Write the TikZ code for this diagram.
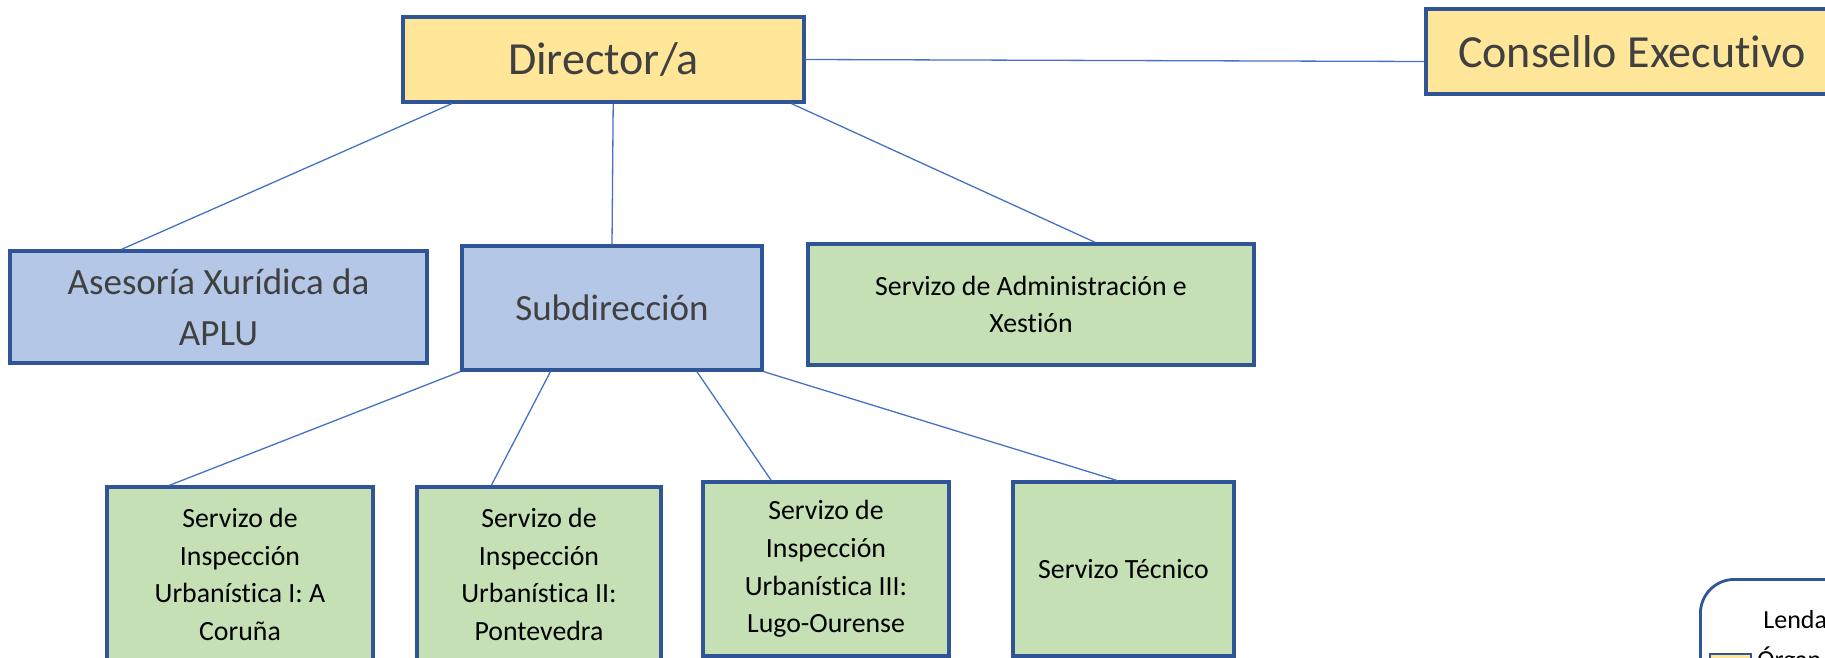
\documentclass[tikz,border=0pt]{standalone}
\usepackage{fontspec}
\setmainfont{Carlito}[Ligatures=NoCommon]
\usepackage{tikz}
\usetikzlibrary{calc}
\usepackage{xcolor}
\definecolor{boxline}{HTML}{2F5597}
\definecolor{linkblue}{HTML}{4472C4}
\definecolor{dirfill}{HTML}{FFE699}
\definecolor{subfill}{HTML}{B4C7E7}
\definecolor{servfill}{HTML}{C5E0B4}
\definecolor{darktext}{HTML}{404040}
\tikzstyle{unit}=[draw=boxline, line width=1.6pt, inner sep=0pt, align=center]
\tikzstyle{goberno}=[unit, fill=dirfill, text=darktext, font=\fontsize{23}{28}\selectfont]
\tikzstyle{staff}=[unit, fill=subfill, text=darktext, font=\fontsize{18.5}{25.5}\selectfont]
\tikzstyle{servizo}=[unit, fill=servfill, text=black, font=\fontsize{13.9}{18.8}\selectfont]
\tikzstyle{link}=[draw=linkblue, line width=0.65pt]

\begin{document}
\begin{tikzpicture}[x=0.5pt,y=-0.5pt]
\useasboundingbox (0,0) rectangle (1825,658);
\clip (0,0) rectangle (1825,658);
% top level
\node[goberno, minimum width=200.5pt, minimum height=42.5pt] (dir) at (603.5,59.5) {Director/a};
\node[goberno, minimum width=206pt, minimum height=42.5pt] (cons) at (1632,51.5) {Consello Executivo};
% second level
\node[staff, minimum width=208.5pt, minimum height=56pt] (ases) at (218.5,307) {Asesoría Xurídica da\\APLU};
\node[staff, minimum width=150pt, minimum height=62pt] (sub) at (612,308) {Subdirección};
\node[servizo, minimum width=223pt, minimum height=60.5pt] (admin) at (1031,304.5) {Servizo de Administración e\\Xestión};
% services under the subdireccion
\node[servizo, minimum width=133pt, minimum height=87.5pt] (insp1) at (240,574.5) {Servizo de\\Inspección\\Urbanística I: A\\Coruña};
\node[servizo, minimum width=122pt, minimum height=87.5pt] (insp2) at (539,574.5) {Servizo de\\Inspección\\Urbanística II:\\Pontevedra};
\node[servizo, minimum width=123pt, minimum height=87pt] (insp3) at (826,569) {Servizo de\\Inspección\\Urbanística III:\\Lugo-Ourense};
\node[servizo, minimum width=110.5pt, minimum height=87pt] (tecn) at (1123.5,569) {Servizo Técnico};
% connectors
\draw[link] (dir.east) -- ([yshift=-5pt]cons.west);
\draw[link] ($(dir.south west)!0.125!(dir.south east)$) -- ($(ases.north west)!0.269!(ases.north east)$);
\draw[link] ($(dir.south west)!0.524!(dir.south east)$) -- (sub.north);
\draw[link] ($(dir.south west)!0.965!(dir.south east)$) -- ($(admin.north west)!0.643!(admin.north east)$);
\draw[link] (sub.south west) -- ($(insp1.north west)!0.237!(insp1.north east)$);
\draw[link] ($(sub.south west)!0.297!(sub.south east)$) -- ($(insp2.north west)!0.307!(insp2.north east)$);
\draw[link] ($(sub.south west)!0.78!(sub.south east)$) -- ($(insp3.north west)!0.28!(insp3.north east)$);
\draw[link] (sub.south east) -- ($(tecn.north west)!0.47!(tecn.north east)$);
% legend
\node[draw=boxline, line width=1.4pt, rounded corners=17pt, minimum width=150pt, minimum height=100pt, anchor=north west] (lenda) at (1699,578) {};
\node[anchor=base west, inner sep=0pt, font=\fontsize{13}{15}\selectfont] (lendatit) at (1763,628) {Lenda};
\node[draw=boxline, fill=dirfill, line width=1pt, minimum width=20.5pt, minimum height=20pt, inner sep=0pt, anchor=north west] (chave) at (1709,653) {};
\node[anchor=base west, inner sep=0pt, font=\fontsize{13}{15}\selectfont] (chavetxt) at (1757,668) {Órgan};
\end{tikzpicture}
\end{document}
